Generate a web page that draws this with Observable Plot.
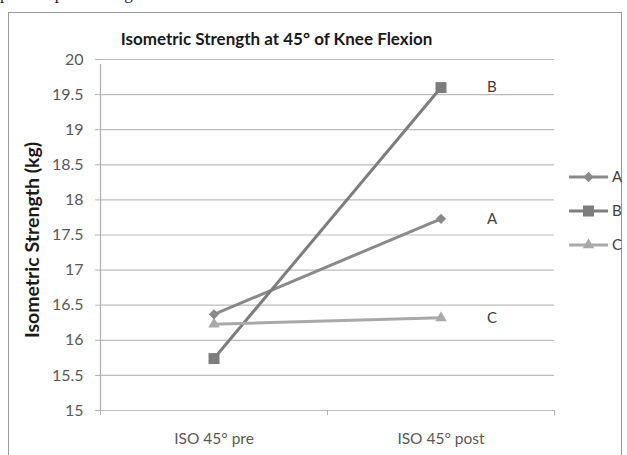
<!DOCTYPE html>
<html>
<head>
<meta charset="utf-8">
<script src="https://cdn.jsdelivr.net/npm/d3@7"></script>
<script src="https://cdn.jsdelivr.net/npm/@observablehq/plot@0.6"></script>
<style>
  html, body { margin: 0; padding: 0; background: #fff; }
  #page { position: relative; width: 627px; height: 455px; overflow: hidden; font-family: Lato, "Open Sans", sans-serif; }
  #doc-text { position: absolute; left: 0; top: -16px; font-family: "Liberation Serif", serif; font-size: 17px; color: #222; white-space: nowrap; }
  #frame { position: absolute; left: 8px; top: 12px; width: 614px; height: 460px; border: 1.5px solid #9a9a9a; box-sizing: border-box; }
  #title { position: absolute; left: 0; top: 28px; width: 553px; text-align: center; font-weight: 700; font-size: 17px; color: #1a1a1a; }
  #ylabel { position: absolute; left: 31px; top: 240px; transform: translate(-50%, -50%) rotate(-90deg); white-space: nowrap; font-weight: 700; font-size: 19.5px; color: #1a1a1a; }
  #chart { position: absolute; left: 0; top: 0; }
  #legend { position: absolute; left: 0; top: 0; }
</style>
</head>
<body>
<div id="page">
  <div id="doc-text">pre and post testing.</div>
  <div id="frame"></div>
  <div id="chart"></div>
  <div id="title">Isometric Strength at 45° of Knee Flexion</div>
  <div id="ylabel">Isometric Strength (kg)</div>
  <svg id="legend" width="627" height="455"></svg>
</div>
<script>
// Measurement occasions and mean isometric strength (kg) per group
const categories = ["ISO 45° pre", "ISO 45° post"];
const seriesNames = ["A", "B", "C"];
const valuesA = [16.37, 17.73];
const valuesB = [15.74, 19.60];
const valuesC = [16.23, 16.32];
const yTicks = [15, 15.5, 16, 16.5, 17, 17.5, 18, 18.5, 19, 19.5, 20];

// Styling per group: colour, marker symbol, marker rotation and radius
const seriesColors = ["#8a8a8a", "#7d7d7d", "#a9a9a9"];
const seriesSymbols = ["square", "square", "triangle"];
const seriesRotate = [45, 0, 0];
const seriesRadius = [4.1, 6.2, 4.3];

const seriesValues = [valuesA, valuesB, valuesC];
const rows = [];
seriesNames.forEach((s, si) => {
  categories.forEach((c, ci) => {
    rows.push({series: s, category: c, pos: ci + 0.5, value: seriesValues[si][ci]});
  });
});
const last = rows.filter(d => d.category === categories[categories.length - 1]);
const idx = s => seriesNames.indexOf(s);

const chart = Plot.plot({
  width: 627,
  height: 455,
  marginLeft: 100,
  marginRight: 73,
  marginTop: 59,
  marginBottom: 45,
  style: {fontFamily: "Lato, 'Open Sans', sans-serif", background: "transparent"},
  x: {domain: [0, categories.length], axis: null},
  y: {domain: [15, 20], axis: null},
  r: {type: "identity"},
  color: {domain: seriesNames, range: seriesColors},
  symbol: {domain: seriesNames, range: seriesSymbols},
  marks: [
    // horizontal gridlines
    Plot.ruleY(yTicks, {stroke: "#bdbdbd", strokeWidth: 1.2}),
    // vertical axis line and y ticks with labels
    Plot.ruleX([0], {stroke: "#b0b0b0", strokeWidth: 1.2, y1: 15, y2: 20, insetBottom: -5}),
    Plot.axisY({ticks: yTicks, tickSize: 5, tickPadding: 12, stroke: "#b0b0b0", fill: "#595959",
      fontSize: 16, tickFormat: d => String(d), label: null}),
    // category boundary ticks under the baseline
    Plot.axisX({ticks: d3.range(0, categories.length + 1), tickSize: 5, stroke: "#b0b0b0",
      tickFormat: () => "", label: null}),
    // category labels centred in each band
    Plot.axisX({ticks: categories.map((c, i) => i + 0.5), tickSize: 0, tickPadding: 22,
      fill: "#595959", fontSize: 15.5, tickFormat: d => categories[Math.floor(d)], label: null}),
    // one line per group
    Plot.line(rows, {x: "pos", y: "value", z: "series", stroke: "series", strokeWidth: 3}),
    // markers
    Plot.dot(rows, {x: "pos", y: "value", symbol: "series", fill: "series",
      r: d => seriesRadius[idx(d.series)], rotate: d => seriesRotate[idx(d.series)]}),
    // value-end labels
    Plot.text(last, {x: "pos", y: "value", text: "series", dx: 46, textAnchor: "start",
      fill: "#404040", fontSize: 15})
  ]
});
document.getElementById("chart").appendChild(chart);

// legend: line + marker + name, one row per group
const legend = d3.select("#legend");
const legendX0 = 569, legendX1 = 608, legendTop = 177, legendStep = 34;
seriesNames.forEach((s, i) => {
  const y = legendTop + i * legendStep;
  const g = legend.append("g");
  g.append("line").attr("x1", legendX0).attr("x2", legendX1).attr("y1", y).attr("y2", y)
    .attr("stroke", seriesColors[i]).attr("stroke-width", 3);
  const sym = seriesSymbols[i] === "triangle" ? d3.symbolTriangle : d3.symbolSquare;
  g.append("path").attr("d", d3.symbol(sym, Math.PI * seriesRadius[i] ** 2)())
    .attr("transform", `translate(${(legendX0 + legendX1) / 2},${y}) rotate(${seriesRotate[i]})`)
    .attr("fill", seriesColors[i]);
  g.append("text").attr("x", legendX1 + 4).attr("y", y).attr("dy", "0.35em")
    .attr("font-family", "Lato, 'Open Sans', sans-serif").attr("font-size", 15)
    .attr("fill", "#404040").text(s);
});
</script>
</body>
</html>
